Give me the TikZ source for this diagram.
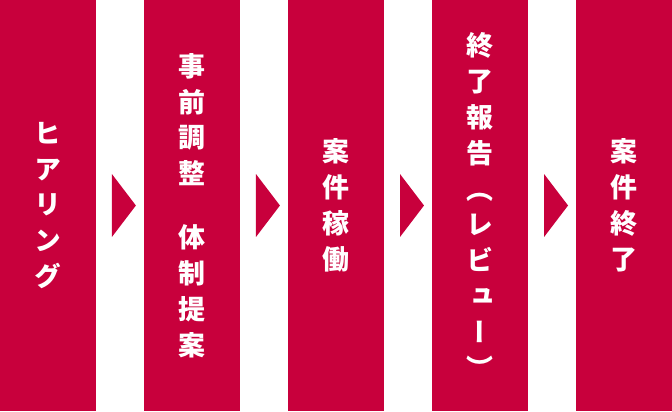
\documentclass[tikz,border=0pt]{standalone}
\usepackage{fontspec}
\newfontfamily\cjk[RawFeature=+vert]{Noto Sans CJK JP}
\usepackage{tikz}
\usetikzlibrary{calc,positioning}
\definecolor{stepred}{RGB}{200,0,60}
\tikzstyle{stage}   = [rectangle, fill=stepred, text=white, inner sep=0pt, minimum width=96pt, minimum height=412pt, align=center, font=\cjk\bfseries\fontsize{27}{36}\selectfont]
\tikzstyle{pointer} = [fill=stepred]

\begin{document}
\begin{tikzpicture}[node distance = 0pt and 48pt]
  % stages
  \node[stage] (S_1) {ヒ\\ア\\リ\\ン\\グ};
  \node[stage, right=of S_1] (S_2) {事\\前\\調\\整\\[28pt]体\\制\\提\\案};
  \node[stage, right=of S_2] (S_3) {案\\件\\稼\\働};
  \node[stage, right=of S_3] (S_4) {終\\了\\報\\告\\（\\レ\\ビ\\ュ\\ー\\）};
  \node[stage, right=of S_4] (S_5) {案\\件\\終\\了};
  % pointers between stages
  \foreach \s in {1,...,4}
    \fill[pointer] ($(S_\s.east)+(16pt,31.5pt)$) -- ($(S_\s.east)+(40pt,0pt)$) -- ($(S_\s.east)+(16pt,-31.5pt)$) -- cycle;
\end{tikzpicture}
\end{document}
